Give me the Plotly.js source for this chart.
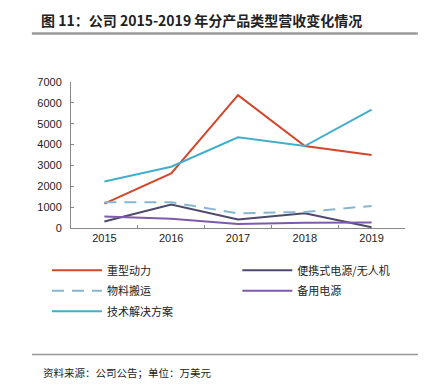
<!DOCTYPE html>
<html><head><meta charset="utf-8">
<script src="https://cdn.plot.ly/plotly-3.0.1.min.js"></script>
<style>html,body{margin:0;padding:0;background:#fff}#chart{width:433px;height:387px}</style>
</head><body><div id="chart"></div>
<script>
const years = ['2015','2016','2017','2018','2019'];
const heavyPower = [1170, 2620, 6370, 3930, 3500];
const portablePower = [310, 1120, 405, 710, 35];
const materialHandling = [1235, 1235, 705, 770, 1060];
const backupPower = [550, 440, 195, 250, 262];
const techSolutions = [2230, 2940, 4350, 3930, 5670];
const seriesNames = ['重型动力','便携式电源/无人机','物料搬运','备用电源','技术解决方案'];
const titleText = '图 11：公司 2015-2019 年分产品类型营收变化情况';
const sourceText = '资料来源：公司公告；单位：万美元';

const mk = (y, name, color, leg, grp, dash) => ({
  x: years, y: y, name: name, type: 'scatter', mode: 'lines',
  legend: leg, legendgroup: grp,
  line: {color: color, width: 2, dash: dash || 'solid'}
});
const data = [
  mk(heavyPower, seriesNames[0], '#D2472B', 'legend', 'a'),
  mk(portablePower, seriesNames[1], '#4D4A6B', 'legend2', 'b'),
  mk(materialHandling, seriesNames[2], '#86B6D0', 'legend', 'c', '12px,8px'),
  mk(backupPower, seriesNames[3], '#7E5BAA', 'legend2', 'd'),
  mk(techSolutions, seriesNames[4], '#41AECB', 'legend', 'e')
];
const font = 'Liberation Sans, Arial, Noto Sans CJK SC, sans-serif';
const legFont = {family: 'Noto Sans CJK SC, sans-serif', size: 11, color: '#222'};
const legBase = {orientation: 'v', xanchor: 'left', yanchor: 'top', y: -0.19,
  itemwidth: 50, font: legFont, traceorder: 'grouped', tracegroupgap: 1.5,
  bgcolor: 'rgba(0,0,0,0)'};
const layout = {
  width: 433, height: 387,
  margin: {l: 71, r: 28, t: 82, b: 159},
  paper_bgcolor: '#fff', plot_bgcolor: '#fff',
  font: {family: font, size: 11, color: '#222'},
  showlegend: true,
  legend: Object.assign({}, legBase, {x: -0.072}),
  legend2: Object.assign({}, legBase, {x: 0.498}),
  xaxis: {type: 'category', range: [-0.5, 4.5], showline: true, linecolor: '#888', linewidth: 1,
    ticks: 'inside', ticklen: 3, tickcolor: '#888', tickson: 'boundaries',
    showgrid: false, zeroline: false, tickfont: {size: 11, color: '#222'}},
  yaxis: {range: [0, 7000], dtick: 1000, showline: true, linecolor: '#888', linewidth: 1,
    ticks: 'inside', ticklen: 3, tickcolor: '#888', showgrid: false, zeroline: false,
    tickfont: {size: 11, color: '#222'}, ticklabelstandoff: 6},
  shapes: [
    {type: 'line', layer: 'above', xref: 'paper', yref: 'paper', x0: -0.117, x1: 1.039,
      y0: 1.333, y1: 1.333, line: {color: '#999999', width: 2}},
    {type: 'line', layer: 'above', xref: 'paper', yref: 'paper', x0: -0.117, x1: 1.039, y0: -0.867, y1: -0.867,
      line: {color: '#999999', width: 1.5}}
  ],
  annotations: [
    {text: '<b>' + titleText + '</b>', xref: 'paper', yref: 'paper', x: -0.093, y: 1.352,
      xanchor: 'left', yanchor: 'bottom', showarrow: false, bgcolor: 'rgba(0,0,0,0)', borderpad: 0,
      font: {family: 'Noto Sans CJK SC, sans-serif', size: 14, color: '#222'}},
    {text: '', xref: 'paper', yref: 'paper', x: -0.117, y: 1.333,
      showarrow: true, arrowhead: 0, arrowwidth: 2, arrowcolor: '#999999',
      axref: 'pixel', ayref: 'pixel', ax: 386, ay: 0, standoff: 0, startstandoff: 0},
    {text: sourceText, xref: 'paper', yref: 'paper', x: -0.09, y: -0.99,
      xanchor: 'left', yanchor: 'middle', showarrow: false, bgcolor: 'rgba(0,0,0,0)',
      font: {family: 'Noto Sans CJK SC, sans-serif', size: 10.5, color: '#222'}}
  ]
};
Plotly.newPlot('chart', data, layout, {displayModeBar: false, staticPlot: true});
</script></body></html>
